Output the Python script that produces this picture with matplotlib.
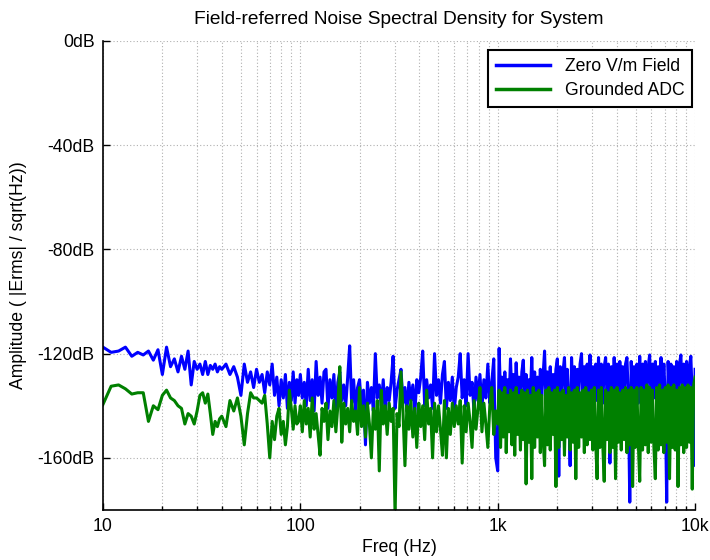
import numpy as np
import matplotlib
matplotlib.use("Agg")
import matplotlib.pyplot as plt
from matplotlib.ticker import FixedLocator, FixedFormatter, LogLocator, NullFormatter

plt.rcParams['font.family'] = ['Liberation Sans', 'DejaVu Sans']
plt.rcParams['path.simplify'] = False

# frequency bins (Hz): fine bins at the low end, log-spaced above 100 Hz
freq_lo = np.arange(10, 40, 1)
freq_mid = np.arange(40, 100, 2)
freq_hi1 = np.geomspace(100, 1000, 100, endpoint=False)
freq_hi2 = np.geomspace(1000, 10000, 140)

# Zero V/m field, dB
field_lo = [-117.5, -119.5, -119, -117.5, -121, -119.5, -120.5, -119, -122.5, -118.5,
            -128, -117.5, -125, -122, -127, -121, -126, -119, -132, -123,
            -126, -124, -128, -123, -128, -124.5, -126, -124, -127, -125]
field_mid = [-126, -124, -128, -125, -129, -136, -124, -131, -127, -133,
             -126, -131, -128, -135, -127, -132, -124, -136, -129, -140,
             -130, -137, -128, -141, -131, -138, -127, -139, -130, -136]
field_hi1 = [-128, -137, -131, -140, -126, -138, -130, -142, -123, -136,
             -129, -139, -127, -126, -141, -130, -137, -128, -143, -131,
             -127, -138, -132, -140, -129, -117, -139, -130, -142, -133,
             -130, -141, -134, -155, -131, -139, -133, -142, -120, -137,
             -132, -140, -130, -143, -133, -138, -131, -121, -141, -134,
             -130, -126, -139, -133, -142, -131, -138, -132, -143, -130,
             -135, -129, -119, -140, -130, -137, -132, -141, -120, -136,
             -130, -139, -128, -123, -141, -131, -138, -129, -142, -133,
             -129, -120, -137, -130, -140, -120, -136, -131, -142, -129,
             -138, -128, -141, -130, -137, -124, -139, -131, -122, -160]
field_hi2 = [-165, -118, -137, -129, -138, -127, -136, -130, -139, -122,
             -137, -128, -138, -123.5, -136, -129, -139, -127, -122.5, -137,
             -128, -138, -130, -136, -121.5, -139, -127, -137, -129, -138,
             -126, -136, -128, -119, -139, -127, -137, -125, -138, -128,
             -136, -126, -122, -167, -125, -138, -127, -121.5, -137, -126,
             -138, -163, -121.5, -136, -125, -139, -126, -137, -124, -120,
             -137, -125, -139, -124, -136, -120.5, -138, -125, -137, -124,
             -138, -121.5, -136, -124, -139, -125, -121.5, -137, -124, -162,
             -125, -138, -121.5, -136, -124, -139, -123, -137, -125, -138,
             -124, -121.5, -137, -177, -123, -138, -125, -136, -124, -139,
             -121, -137, -124, -138, -123, -136, -125, -120.5, -138, -124,
             -137, -123, -139, -125, -136, -121.5, -138, -124, -137, -177,
             -123, -138, -124, -136, -125, -139, -123, -137, -124, -120.5,
             -138, -124, -136, -123, -139, -125, -121, -137, -163, -126]

# Grounded ADC, dB
adc_lo = [-139.5, -132.5, -132, -133.5, -135.5, -135, -135, -146, -140, -141.5,
          -136, -134, -137, -138, -140, -141, -147, -143, -144, -147,
          -142, -136, -135, -139, -135.5, -143, -151, -146, -148, -145]
adc_mid = [-144, -148, -138, -142, -137, -144, -155, -143, -135, -137,
           -137, -138, -139, -136, -147, -160, -146, -153, -144, -141,
           -151, -146, -155, -148, -134, -141, -149, -140, -147, -146]
adc_hi1 = [-140, -150, -138, -147, -141, -152, -137, -149, -143, -151,
           -159, -141, -146, -139, -153, -142, -148, -138, -150, -140,
           -125, -154, -139, -147, -141, -150, -138, -146, -142, -151,
           -133, -148, -140, -152, -139, -147, -160, -141, -149, -138,
           -165, -134, -147, -140, -151, -139, -146, -141, -182, -143,
           -148, -127, -142, -163, -140, -149, -138, -152, -141, -156,
           -139, -148, -140, -153, -134, -147, -141, -160, -139, -150,
           -140, -149, -159, -138, -160, -141, -151, -139, -148, -140,
           -147, -138, -162, -140, -150, -139, -146, -156, -138, -149,
           -141, -133, -150, -139, -147, -156, -140, -133, -151, -142]
adc_hi2 = [-147, -134, -156, -135, -152, -133, -158, -136, -150, -134,
           -155, -135, -159, -133, -151, -136, -157, -134, -153, -135,
           -170, -134, -154, -136, -168, -133, -156, -135, -152, -134,
           -158, -136, -153, -163, -134, -155, -133, -157, -135, -151,
           -134, -171, -133, -156, -135, -153, -134, -159, -136, -152,
           -133, -157, -135, -154, -134, -168, -133, -156, -135, -152,
           -134, -158, -133, -155, -135, -153, -134, -157, -133, -154,
           -168, -134, -156, -133, -155, -169, -134, -153, -135, -158,
           -133, -156, -134, -168, -133, -154, -135, -157, -134, -153,
           -133, -158, -134, -155, -133, -171, -134, -156, -133, -154,
           -169, -133, -157, -134, -155, -132, -158, -133, -154, -134,
           -156, -168, -133, -157, -132, -155, -134, -158, -133, -154,
           -132, -168, -133, -156, -132, -157, -134, -171, -133, -155,
           -132, -158, -133, -156, -132, -154, -133, -172, -132, -129]

freq = np.concatenate([freq_lo, freq_mid, freq_hi1, freq_hi2])
field_db = np.concatenate([field_lo, field_mid, field_hi1, field_hi2])
adc_db = np.concatenate([adc_lo, adc_mid, adc_hi1, adc_hi2])

fig = plt.figure(figsize=(7.1, 5.6), dpi=100)
ax = fig.add_axes([0.145, 0.0893, 0.834, 0.8375])

ax.semilogx(freq, field_db, color=(0, 0, 1), lw=2.2, label='Zero V/m Field')
ax.semilogx(freq, adc_db, color=(0, 0.5, 0), lw=2.2, label='Grounded ADC')

ax.set_xlim(10, 10000)
ax.set_ylim(-180, 0)

ax.xaxis.set_major_locator(FixedLocator([10, 100, 1000, 10000]))
ax.xaxis.set_major_formatter(FixedFormatter(['10', '100', '1k', '10k']))
ax.xaxis.set_minor_locator(LogLocator(base=10, subs=np.arange(2, 10)))
ax.xaxis.set_minor_formatter(NullFormatter())
yt = [-160, -120, -80, -40, 0]
ax.yaxis.set_major_locator(FixedLocator(yt))
ax.yaxis.set_major_formatter(FixedFormatter(['%ddB' % v for v in yt]))

ax.tick_params(which='both', direction='in', labelsize=12.7, width=1)
ax.tick_params(which='major', length=5)
ax.tick_params(which='minor', length=3)
ax.tick_params(axis='x', pad=6)
ax.tick_params(axis='y', pad=6)

ax.grid(which='major', axis='both', ls=(0, (1, 2)), color='#b0b0b0', lw=0.8)
ax.grid(which='minor', axis='x', ls=(0, (1, 2)), color='#b0b0b0', lw=0.8)
ax.set_axisbelow(True)

for s in ['top', 'right']:
    ax.spines[s].set_visible(False)
for s in ['left', 'bottom']:
    ax.spines[s].set_linewidth(1.2)

ax.set_title('Field-referred Noise Spectral Density for System', fontsize=13.8, pad=12)
ax.set_xlabel('Freq (Hz)', fontsize=12.7, labelpad=3)
ax.set_ylabel('Amplitude ( |Erms| / sqrt(Hz))', fontsize=12.7, labelpad=8)

leg = ax.legend(loc='upper right', bbox_to_anchor=(0.995, 0.981), borderaxespad=0,
                fontsize=12.7, fancybox=False, framealpha=1, handlelength=3.1,
                borderpad=0.45, labelspacing=0.4)
leg.get_frame().set_edgecolor('black')
leg.get_frame().set_linewidth(1.5)
for ln in leg.get_lines():
    ln.set_linewidth(2.5)

fig.savefig('out.png', dpi=100)
